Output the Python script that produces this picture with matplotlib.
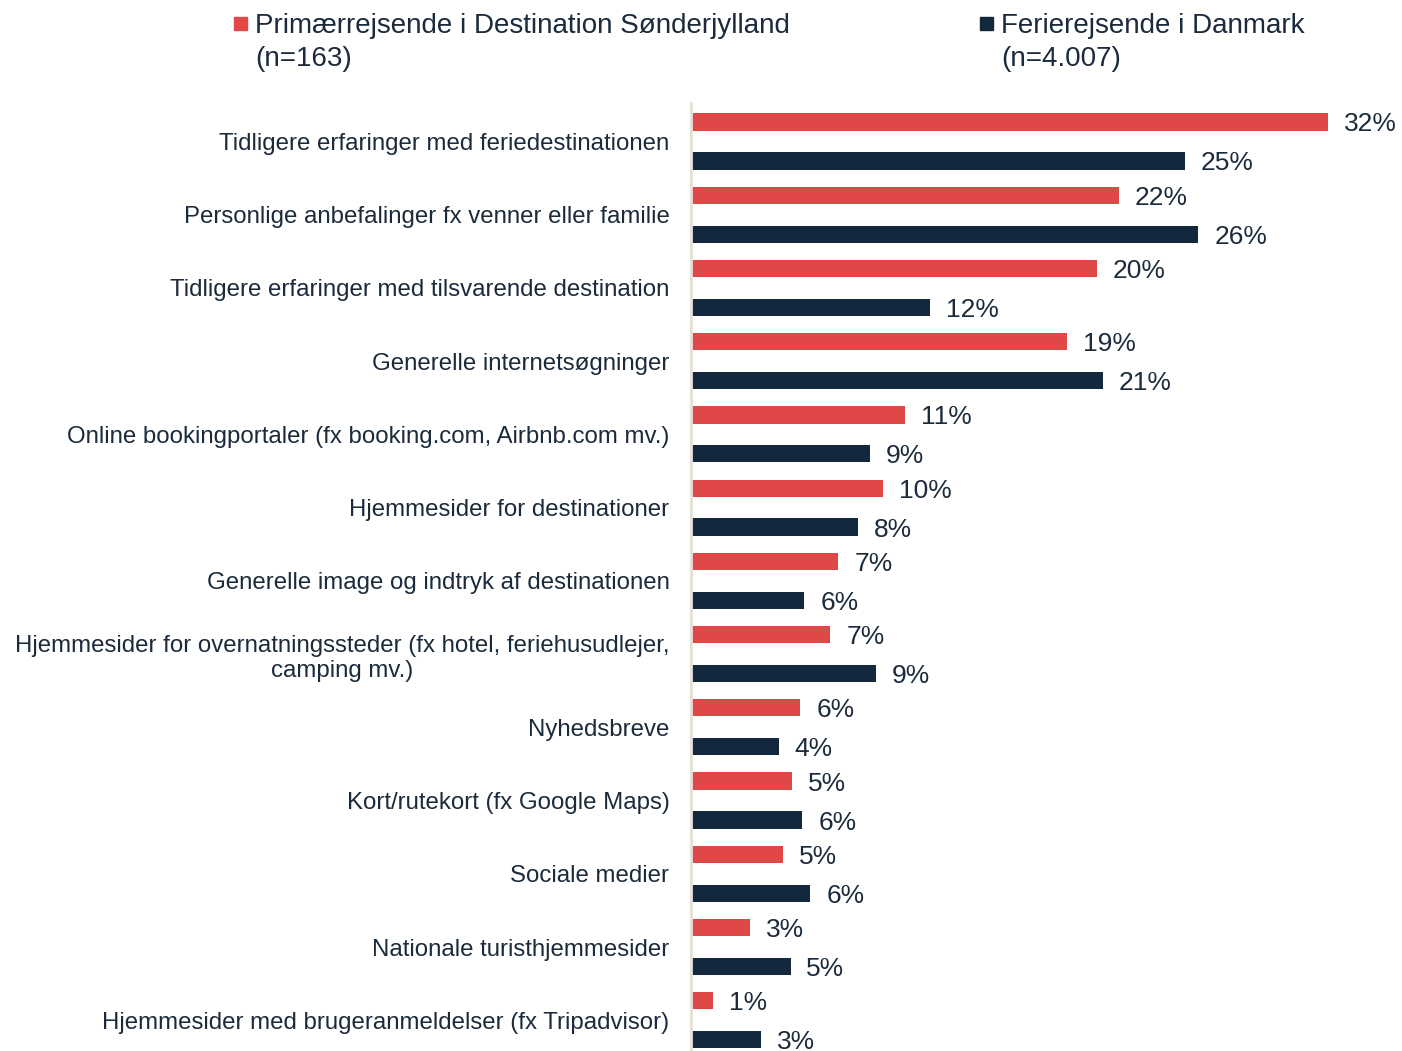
import matplotlib.pyplot as plt
import numpy as np

plt.rcParams['font.family'] = ['Liberation Sans', 'DejaVu Sans']

categories = [
    "Tidligere erfaringer med feriedestinationen",
    "Personlige anbefalinger fx venner eller familie",
    "Tidligere erfaringer med tilsvarende destination",
    "Generelle internetsøgninger",
    "Online bookingportaler (fx booking.com, Airbnb.com mv.)",
    "Hjemmesider for destinationer",
    "Generelle image og indtryk af destinationen",
    "Hjemmesider for overnatningssteder (fx hotel, feriehusudlejer,\ncamping mv.)",
    "Nyhedsbreve",
    "Kort/rutekort (fx Google Maps)",
    "Sociale medier",
    "Nationale turisthjemmesider",
    "Hjemmesider med brugeranmeldelser (fx Tripadvisor)",
]
sonderjylland = [32.0, 21.5, 20.4, 18.9, 10.75, 9.65, 7.4, 7.0, 5.5, 5.1, 4.6, 2.96, 1.1]
danmark = [24.8, 25.5, 12.0, 20.7, 9.0, 8.4, 5.7, 9.3, 4.4, 5.6, 6.0, 5.0, 3.5]
labels_s = ["32%", "22%", "20%", "19%", "11%", "10%", "7%", "7%", "6%", "5%", "5%", "3%", "1%"]
labels_d = ["25%", "26%", "12%", "21%", "9%", "8%", "6%", "9%", "4%", "6%", "6%", "5%", "3%"]

RED = "#E04848"
NAVY = "#13283D"
TEXT = "#1B2B3C"

fig = plt.figure(figsize=(14.02, 10.51), dpi=100)
# axes: left at x=691px, top at y=103px, to bottom / right edge
ax = fig.add_axes([691 / 1402, 0, 1 - 691 / 1402, 1 - 103 / 1051])

y = np.arange(len(categories))
off = 0.266
h = 0.235
ax.barh(y - off, sonderjylland, height=h, color=RED)
ax.barh(y + off, danmark, height=h, color=NAVY)

for yi, v, lab in zip(y - off, sonderjylland, labels_s):
    ax.text(v + 0.8, yi, lab, va='center_baseline', ha='left', fontsize=19, color=TEXT)
for yi, v, lab in zip(y + off, danmark, labels_d):
    ax.text(v + 0.8, yi, lab, va='center_baseline', ha='left', fontsize=19, color=TEXT)

ax.set_xlim(0, 711 / 19.9)
ax.set_ylim(12.42, -0.525)

ax.set_yticks(y)
ax.set_yticklabels(categories, fontsize=17.3, color=TEXT, multialignment='center')
ax.tick_params(axis='y', length=0, pad=15.5)
ax.set_xticks([])

for s in ['top', 'right', 'bottom']:
    ax.spines[s].set_visible(False)
ax.spines['left'].set_color('#E6E0D6')
ax.spines['left'].set_linewidth(2)

# legend drawn as squares + text
fig.patches.append(plt.Rectangle((234 / 1402, 1 - 30 / 1051), 13 / 1402, 13 / 1051,
                                 transform=fig.transFigure, color=RED))
fig.text(255 / 1402, 1 - 13 / 1051, "Primærrejsende i Destination Sønderjylland\n(n=163)",
         ha='left', va='top', fontsize=20, color=TEXT, linespacing=1.35)
fig.patches.append(plt.Rectangle((980 / 1402, 1 - 30 / 1051), 13 / 1402, 13 / 1051,
                                 transform=fig.transFigure, color=NAVY))
fig.text(1001 / 1402, 1 - 13 / 1051, "Ferierejsende i Danmark\n(n=4.007)",
         ha='left', va='top', fontsize=20, color=TEXT, linespacing=1.35)

fig.savefig("out.png", dpi=100)
